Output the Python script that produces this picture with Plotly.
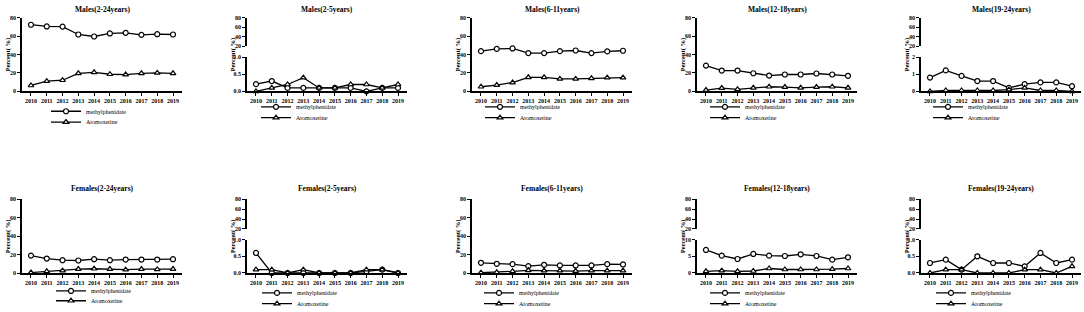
import plotly.graph_objects as go

W, H = 1084, 312
FH = 330  # figure slightly taller than the window so bottom legends are not clamped
years = list(range(2010, 2020))

panel_titles = ["Males(2-24years)", "Males(2-5years)", "Males(6-11years)", "Males(12-18years)", "Males(19-24years)",
                "Females(2-24years)", "Females(2-5years)", "Females(6-11years)", "Females(12-18years)", "Females(19-24years)"]
series_names = ["methylphenidate", "Atomoxetine"]

# Percent values per panel (methylphenidate, atomoxetine)
mph_m_2_24 = [72.4, 70.5, 70.4, 61.8, 59.6, 62.9, 63.6, 61.4, 62.1, 61.8]
atx_m_2_24 = [6.4, 11.1, 12.1, 19.6, 20.7, 18.6, 18.2, 19.6, 20.0, 19.6]
mph_m_2_5 = [0.21, 0.30, 0.10, 0.10, 0.10, 0.10, 0.10, 0.00, 0.10, 0.10]
atx_m_2_5 = [0.00, 0.10, 0.20, 0.40, 0.10, 0.10, 0.20, 0.20, 0.10, 0.20]
mph_m_6_11 = [43.7, 46.2, 46.6, 41.6, 41.6, 43.7, 44.4, 41.6, 43.4, 44.1]
atx_m_6_11 = [5.0, 6.8, 9.6, 15.3, 15.3, 13.5, 13.5, 14.2, 14.9, 14.9]
mph_m_12_18 = [28.0, 22.6, 22.6, 19.7, 17.2, 18.3, 18.3, 19.4, 18.3, 16.9]
atx_m_12_18 = [1.4, 3.6, 2.2, 3.9, 5.0, 4.7, 3.9, 4.7, 5.0, 3.9]
mph_m_19_24 = [0.80, 1.22, 0.90, 0.60, 0.60, 0.20, 0.42, 0.52, 0.52, 0.30]
atx_m_19_24 = [0.00, 0.05, 0.05, 0.05, 0.05, 0.10, 0.20, 0.05, 0.05, 0.00]
mph_f_2_24 = [18.9, 15.7, 13.9, 13.6, 15.0, 13.9, 14.6, 14.6, 14.6, 15.0]
atx_f_2_24 = [0.5, 1.8, 2.5, 4.3, 4.6, 4.3, 3.6, 4.3, 3.9, 4.3]
mph_f_2_5 = [0.60, 0.00, 0.00, 0.00, 0.00, 0.00, 0.00, 0.05, 0.10, 0.00]
atx_f_2_5 = [0.10, 0.10, 0.00, 0.10, 0.00, 0.00, 0.00, 0.10, 0.10, 0.00]
mph_f_6_11 = [11.1, 10.0, 9.6, 7.5, 8.9, 8.2, 8.2, 8.2, 9.6, 9.3]
atx_f_6_11 = [0.4, 0.7, 1.8, 2.9, 2.5, 2.5, 2.1, 2.5, 2.5, 2.5]
mph_f_12_18 = [6.9, 5.2, 4.2, 5.7, 5.2, 5.1, 5.6, 5.1, 4.0, 4.7]
atx_f_12_18 = [0.5, 0.7, 0.5, 0.6, 1.35, 1.05, 1.05, 1.05, 1.15, 1.35]
mph_f_19_24 = [0.30, 0.40, 0.10, 0.50, 0.30, 0.30, 0.20, 0.60, 0.30, 0.40]
atx_f_19_24 = [0.00, 0.10, 0.10, 0.00, 0.00, 0.00, 0.10, 0.10, 0.00, 0.20]

full_ticks = [0, 20, 40, 60, 80]
upper_ticks = [20, 40, 60, 80]

panels = [
    (mph_m_2_24, atx_m_2_24, None),
    (mph_m_2_5, atx_m_2_5, ([0, 0.5, 1.0], ["0.0", "0.5", "1.0"])),
    (mph_m_6_11, atx_m_6_11, None),
    (mph_m_12_18, atx_m_12_18, None),
    (mph_m_19_24, atx_m_19_24, ([0, 1, 2], ["0", "1", "2"])),
    (mph_f_2_24, atx_f_2_24, None),
    (mph_f_2_5, atx_f_2_5, ([0, 0.5, 1.0], ["0.0", "0.5", "1.0"])),
    (mph_f_6_11, atx_f_6_11, None),
    (mph_f_12_18, atx_f_12_18, ([0, 5, 10], ["0", "5", "10"])),
    (mph_f_19_24, atx_f_19_24, ([0, 0.5, 1.0], ["0.0", "0.5", "1.0"])),
]

FONT = "Liberation Serif"
col_x = [22, 247, 472, 697, 921]
PW = 160
rows = [
    dict(top=15, bot=90, utop=15, ubot=44, ltop=55, title=7),
    dict(top=200, bot=275, utop=200, ubot=230, ltop=241, title=189),
]
legend_pos = [
    (86, 110, 121), (296, 105.5, 116.5), (520, 105.5, 116.5), (745, 105.5, 116.5), (968, 105.5, 116.5),
    (91, 293, 303), (297, 295, 306), (519, 295, 306), (745, 295, 306), (971, 295, 306),
]
TEXT_OFFSET = 14.5  # legend text centre below legend box top, px

def fx(px):
    return px / W

def fy(py):
    return 1 - py / FH

fig = go.Figure()
layout = {}
annotations = []
extra_idx = 11
legend_count = 0

for i, (mph, atx, lower) in enumerate(panels):
    r = rows[i // 5]
    x0 = col_x[i % 5]
    ax = i + 1
    xname = "xaxis" if ax == 1 else f"xaxis{ax}"
    yname = "yaxis" if ax == 1 else f"yaxis{ax}"
    xref = "x" if ax == 1 else f"x{ax}"
    yref = "y" if ax == 1 else f"y{ax}"

    tickfont = dict(family=FONT, size=6, color="black", weight="bold")
    common = dict(ticks="outside", ticklen=3, tickwidth=1, tickcolor="black", showline=True,
                  linecolor="black", linewidth=1.5, showgrid=False, zeroline=False,
                  tickfont=tickfont, fixedrange=True)
    layout[xname] = dict(domain=[fx(x0), fx(x0 + PW)], range=[2009.43, 2019.57], tickvals=years,
                         anchor=yref, **common)
    if lower is None:
        layout[yname] = dict(domain=[fy(r["bot"]), fy(r["top"])], range=[0, 80], tickvals=full_ticks,
                             anchor=xref, **common)
    else:
        tv, tt = lower
        layout[yname] = dict(domain=[fy(r["bot"]), fy(r["ltop"])], range=[0, tv[-1]], tickvals=tv,
                             ticktext=tt, anchor=xref, **common)
        uname = f"yaxis{extra_idx}"
        uref = f"y{extra_idx}"
        layout[uname] = dict(domain=[fy(r["ubot"]), fy(r["utop"])], range=[20, 80], tickvals=upper_ticks,
                             anchor=xref, **common)
        fig.add_trace(go.Scatter(x=[None], y=[None], xaxis=xref, yaxis=uref, showlegend=False,
                                 hoverinfo="skip"))
        extra_idx += 1

    lx, ly1, ly2 = legend_pos[i]
    for vals, name, sym, ly in ((mph, series_names[0], "circle", ly1), (atx, series_names[1], "triangle-up", ly2)):
        legend_count += 1
        lname = "legend" if legend_count == 1 else f"legend{legend_count}"
        layout[lname] = dict(x=fx(lx - 40), y=fy(ly - TEXT_OFFSET), xanchor="left", yanchor="top",
                             bgcolor="rgba(0,0,0,0)", borderwidth=0, itemwidth=30,
                             font=dict(family=FONT, size=6, color="black"))
        fig.add_trace(go.Scatter(x=years, y=vals, xaxis=xref, yaxis=yref, name=name,
                                 mode="lines+markers", cliponaxis=False,
                                 line=dict(color="black", width=1.3),
                                 marker=dict(symbol=sym, size=5, color="white",
                                             line=dict(color="black", width=1.2)),
                                 legend=lname, showlegend=True))

    annotations.append(dict(text=panel_titles[i], x=fx(x0 + PW / 2), y=fy(r["title"]), xref="paper",
                            yref="paper", showarrow=False, xanchor="center", yanchor="middle",
                            font=dict(family=FONT, size=7.5, color="black", weight="bold")))
    annotations.append(dict(text="Percent( %)", x=fx(x0 - 14), y=fy((r["top"] + r["bot"]) / 2),
                            xref="paper", yref="paper", showarrow=False, textangle=-90,
                            xanchor="center", yanchor="middle",
                            font=dict(family=FONT, size=6.5, color="black", weight="bold")))

fig.update_layout(**layout)
fig.update_layout(width=W, height=FH, margin=dict(l=0, r=0, t=0, b=0), paper_bgcolor="white",
                  plot_bgcolor="white", annotations=annotations, showlegend=True)
fig.write_html("out.html", config={"displayModeBar": False},
               post_script="document.body.style.margin='0';document.body.style.overflow='hidden';")
